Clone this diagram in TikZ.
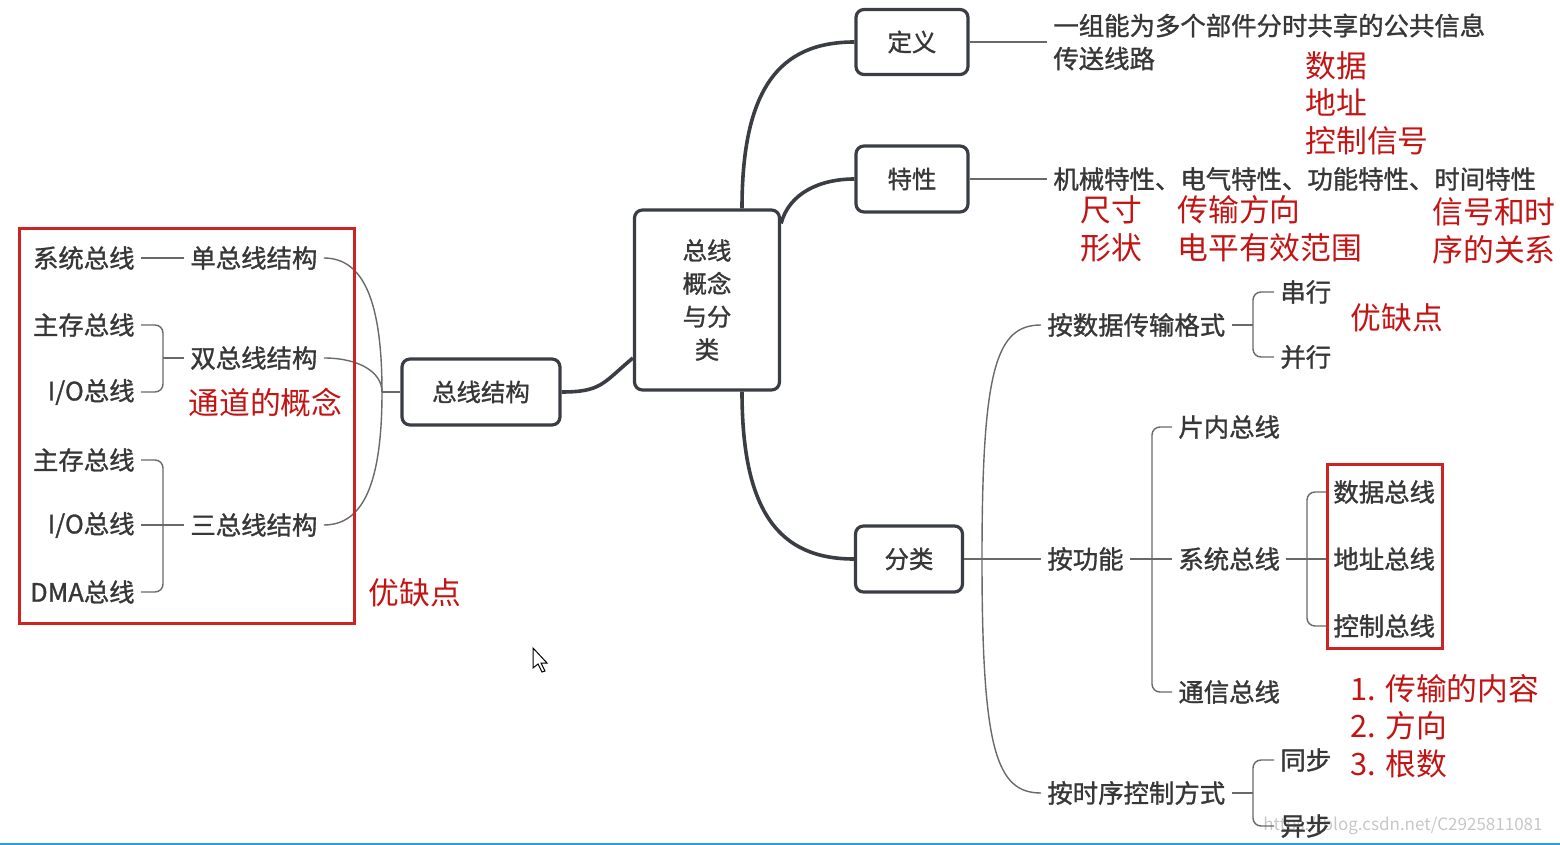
\documentclass[tikz,border=0pt]{standalone}
\usepackage{fontspec}
\setmainfont{Noto Sans CJK SC}
\newfontfamily\mmfont{Noto Sans CJK SC}[FakeBold=1.2]
\usepackage{tikz}
\definecolor{mmdark}{RGB}{58,62,68}
\definecolor{mmtext}{RGB}{55,55,55}
\definecolor{mmline}{RGB}{105,105,105}
\definecolor{mmred}{RGB}{195,20,20}
\definecolor{mmframe}{RGB}{205,35,35}
\definecolor{mmcyan}{RGB}{40,160,220}
\usetikzlibrary{calc}

\begin{document}
\begin{tikzpicture}[x=0.5pt, y=-0.5pt,
  topic/.style={draw=mmdark, line width=1.6pt, rounded corners=4pt, fill=white, text=mmtext, font=\mmfont\fontsize{12.2}{16.5}\selectfont, align=center},
  leaf/.style={text=mmtext, font=\mmfont\fontsize{12.7}{16.5}\selectfont, inner sep=3pt},
  note/.style={text=mmred, font=\fontsize{15.4}{18.8}\selectfont, inner sep=0pt, align=left},
  link/.style={draw=mmdark, line width=1.8pt},
  twig/.style={draw=mmline, line width=0.7pt},
  brace/.style={twig, rounded corners=4pt}]
  \useasboundingbox (0,0) rectangle (1560,845);

  %% Main topics
  \node[topic, minimum width=72.5pt, minimum height=90pt] (core) at (707,300) {总线\\概念\\与分\\类};
  \node[topic, minimum width=56pt, minimum height=32.5pt] (def) at (912,42) {定义};
  \node[topic, minimum width=56pt, minimum height=33pt] (feat) at (912,179) {特性};
  \node[topic, minimum width=53.5pt, minimum height=33pt] (cls) at (909,559) {分类};
  \node[topic, minimum width=79pt, minimum height=33pt] (struct) at (481,392) {总线结构};

  \draw[link] ($(core.north)+(35,0)$) .. controls +(0,-120) and +(-75,0) .. (def.west);
  \draw[link] ($(core.north east)+(0,15)$) .. controls +(8,-30) and +(-35,0) .. (feat.west);
  \draw[link] ($(core.south)+(35,0)$) .. controls +(0,120) and +(-75,0) .. (cls.west);
  \draw[link] ($(core.west)+(0,58)$) .. controls +(-30,25) and +(40,0) .. (struct.east);

  %% Definition and features
  \node[leaf, anchor=west, align=left] (defx) at (1047,42) {一组能为多个部件分时共享的公共信息\\传送线路};
  \draw[twig] (def.east) -- (defx.west);
  \node[leaf, anchor=west] (featx) at (1047,179) {机械特性、电气特性、功能特性、时间特性};
  \draw[twig] (feat.east) -- (featx.west);

  \node[note, anchor=west] (sig) at (1305,103) {数据\\地址\\控制信号};
  \node[note, anchor=west] (mech) at (1080,229) {尺寸\\形状};
  \node[note, anchor=west] (elec) at (1177,229) {传输方向\\电平有效范围};
  \node[note, anchor=west] (time) at (1432,231) {信号和时\\序的关系};

  %% Classification
  \coordinate (jr) at (982,559);
  \node[leaf, anchor=west] (fmt) at (1041,325) {按数据传输格式};
  \node[leaf, anchor=west] (func) at (1041,559) {按功能};
  \node[leaf, anchor=west] (timing) at (1041,793) {按时序控制方式};
  \draw[twig] (cls.east) -- (func.west);
  \draw[twig] (jr) .. controls +(0,-190) and +(-45,0) .. (fmt.west);
  \draw[twig] (jr) .. controls +(0,190) and +(-45,0) .. (timing.west);

  \node[leaf, anchor=west] (ser) at (1274,292) {串行};
  \node[leaf, anchor=west] (par) at (1274,357) {并行};
  \coordinate (fb) at (1253,325);
  \draw[twig] (fmt.east) -- (fb);
  \draw[brace] (ser.west) -| (fb) |- (par.west);
  \node[note, anchor=west] (pros2) at (1350,318) {优缺点};

  \node[leaf, anchor=west] (chip) at (1172,427) {片内总线};
  \node[leaf, anchor=west] (sys) at (1172,559) {系统总线};
  \node[leaf, anchor=west] (comm) at (1172,692) {通信总线};
  \coordinate (gb) at (1152,559);
  \draw[twig] (func.east) -- (sys.west);
  \draw[brace] (chip.west) -| (gb) |- (comm.west);

  \node[leaf, anchor=west] (dbus) at (1327,492) {数据总线};
  \node[leaf, anchor=west] (abus) at (1327,559) {地址总线};
  \node[leaf, anchor=west] (cbus) at (1327,626) {控制总线};
  \coordinate (sb) at (1307,559);
  \draw[twig] (sys.east) -- (abus.west);
  \draw[brace] (dbus.west) -| (sb) |- (cbus.west);
  \draw[mmframe, line width=1.5pt] (1327,465) rectangle (1442,648);
  \node[note, anchor=west] (commnote) at (1350,726) {1. 传输的内容\\2. 方向\\3. 根数};

  \node[text=black!22, font=\fontsize{8.5}{10}\selectfont, anchor=west, inner sep=0pt] (mark) at (1263,826) {https://blog.csdn.net/C2925811081};
  \node[leaf, anchor=west] (sync) at (1274,760) {同步};
  \node[leaf, anchor=west] (async) at (1274,826) {异步};
  \coordinate (tb) at (1253,793);
  \draw[twig] (timing.east) -- (tb);
  \draw[brace] (sync.west) -| (tb) |- (async.west);

  %% Bus structure
  \coordinate (jl) at (382,392);
  \draw[twig] (struct.west) -- (jl);
  \node[leaf, anchor=west] (single) at (184,258) {单总线结构};
  \node[leaf, anchor=west] (double) at (184,358) {双总线结构};
  \node[leaf, anchor=west] (triple) at (184,525) {三总线结构};
  \draw[twig] (jl) .. controls +(0,-90) and +(40,0) .. (single.east);
  \draw[twig] (jl) .. controls +(0,-20) and +(35,0) .. (double.east);
  \draw[twig] (jl) .. controls +(0,90) and +(40,0) .. (triple.east);

  \node[leaf, anchor=east] (sysbus) at (141,258) {系统总线};
  \draw[twig] (sysbus.east) -- (single.west);
  \node[leaf, anchor=east] (mem1) at (141,325) {主存总线};
  \node[leaf, anchor=east] (io1) at (141,392) {I/O总线};
  \coordinate (lb1) at (163,358);
  \draw[brace] (mem1.east) -| (lb1) |- (io1.east);
  \draw[twig] (lb1) -- (double.west);
  \node[leaf, anchor=east] (mem2) at (141,460) {主存总线};
  \node[leaf, anchor=east] (io2) at (141,525) {I/O总线};
  \node[leaf, anchor=east] (dma) at (141,592) {DMA总线};
  \coordinate (lb2) at (163,525);
  \draw[brace] (mem2.east) -| (lb2) |- (dma.east);
  \draw[twig] (io2.east) -- (triple.west);

  \draw[mmframe, line width=1.5pt] (19,229) rectangle (354,623);
  \node[note, anchor=west] (chan) at (188,403) {通道的概念};
  \node[note, anchor=west] (pros1) at (368,593) {优缺点};

  %% Pointer and bottom edge
  \draw[black, fill=white, line width=0.5pt] (533,648) -- (533,668) -- (538,664) -- (542,672) -- (545,671) -- (541,663) -- (547,663) -- cycle;
  \draw[mmcyan, line width=1.2pt] (0,844) -- (1560,844);
\end{tikzpicture}
\end{document}
